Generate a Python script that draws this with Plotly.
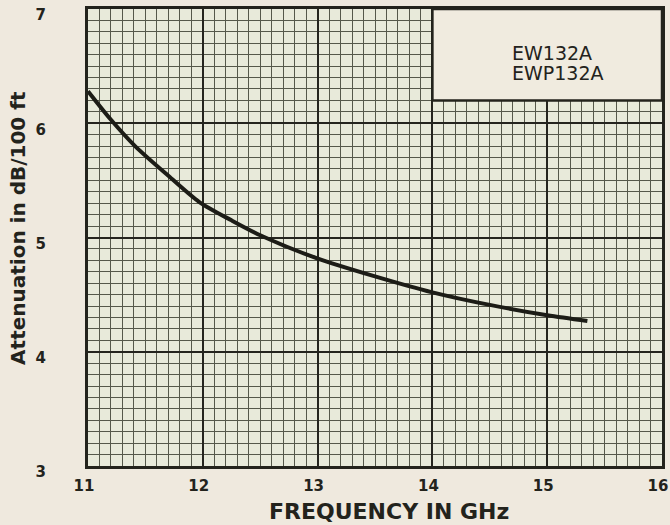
import plotly.graph_objects as go

freq_ghz = [11.0, 11.2, 11.41, 11.7, 11.97, 12.25, 12.5, 12.99, 13.5, 14.0, 14.5, 15.0, 15.35]
atten_db = [6.28, 6.03, 5.80, 5.54, 5.31, 5.15, 5.02, 4.82, 4.66, 4.52, 4.41, 4.32, 4.27]
x_ticks = [11, 12, 13, 14, 15, 16]
y_ticks = [3, 4, 5, 6, 7]
legend_lines = ["EW132A", "EWP132A"]
x_title = "FREQUENCY IN GHz"
y_title = "Attenuation in dB/100 ft"

ink = "#23231c"
paper = "#efe9de"
fig = go.Figure()
fig.add_trace(go.Scatter(x=freq_ghz, y=atten_db, mode="lines",
                         line=dict(color="#1c1c16", width=4, shape="spline", smoothing=0.8),
                         showlegend=False))

fam = "DejaVu Sans, sans-serif"
minor = dict(tickmode="linear", dtick=0.1, showgrid=True,
             gridcolor="#55584a", gridwidth=1.4, ticks="")
fig.update_layout(
    width=670, height=525,
    margin=dict(l=88, r=8, t=9, b=59),
    paper_bgcolor=paper, plot_bgcolor="#e8eada",
    font=dict(family=fam, color=ink),
    xaxis=dict(range=[11, 16], tickmode="array", tickvals=x_ticks, showgrid=True,
               gridcolor="#25251e", gridwidth=2.2, automargin=False,
               minor=dict(minor, tick0=11),
               showline=True, linecolor=ink, linewidth=3, mirror=True,
               zeroline=False, ticks="", ticklabelstandoff=4, ticklabelshift=-4,
               ticklabeloverflow="allow",
               tickfont=dict(size=15, family=fam, color=ink, weight="bold")),
    yaxis=dict(range=[3, 7], tickmode="array", tickvals=y_ticks, showgrid=True,
               gridcolor="#25251e", gridwidth=2.2, automargin=False,
               minor=dict(minor, tick0=3),
               showline=True, linecolor=ink, linewidth=3, mirror=True,
               zeroline=False, ticks="", ticklabelstandoff=36, ticklabelshift=6,
               ticklabeloverflow="allow",
               tickfont=dict(size=15, family=fam, color=ink, weight="bold")),
)

fig.add_annotation(xref="paper", yref="paper", x=0.524, y=-0.0985,
                   xanchor="center", yanchor="middle", showarrow=False,
                   text=x_title,
                   font=dict(size=22, family=fam, color=ink, weight="bold"))
fig.add_annotation(xref="paper", yref="paper", x=-0.122, y=0.521,
                   xanchor="center", yanchor="middle", showarrow=False,
                   text=y_title, textangle=-90,
                   font=dict(size=20, family=fam, color=ink, weight="bold"))

fig.add_shape(type="rect", xref="x domain", yref="y domain",
              x0=0.60, x1=1.0, y0=0.80, y1=1.0,
              fillcolor="#f0ebdf", line=dict(color=ink, width=2.5), layer="above")
for label, ypos in zip(legend_lines, [0.904, 0.859]):
    fig.add_annotation(xref="x domain", yref="y domain", x=0.736, y=ypos,
                       xanchor="left", yanchor="middle",
                       text=label, showarrow=False, align="left",
                       font=dict(size=19, family=fam, color=ink))

fig.write_html("out.html", config={"displayModeBar": False},
               post_script="document.body.style.margin='0';"
                           "document.body.style.background='" + paper + "';")
